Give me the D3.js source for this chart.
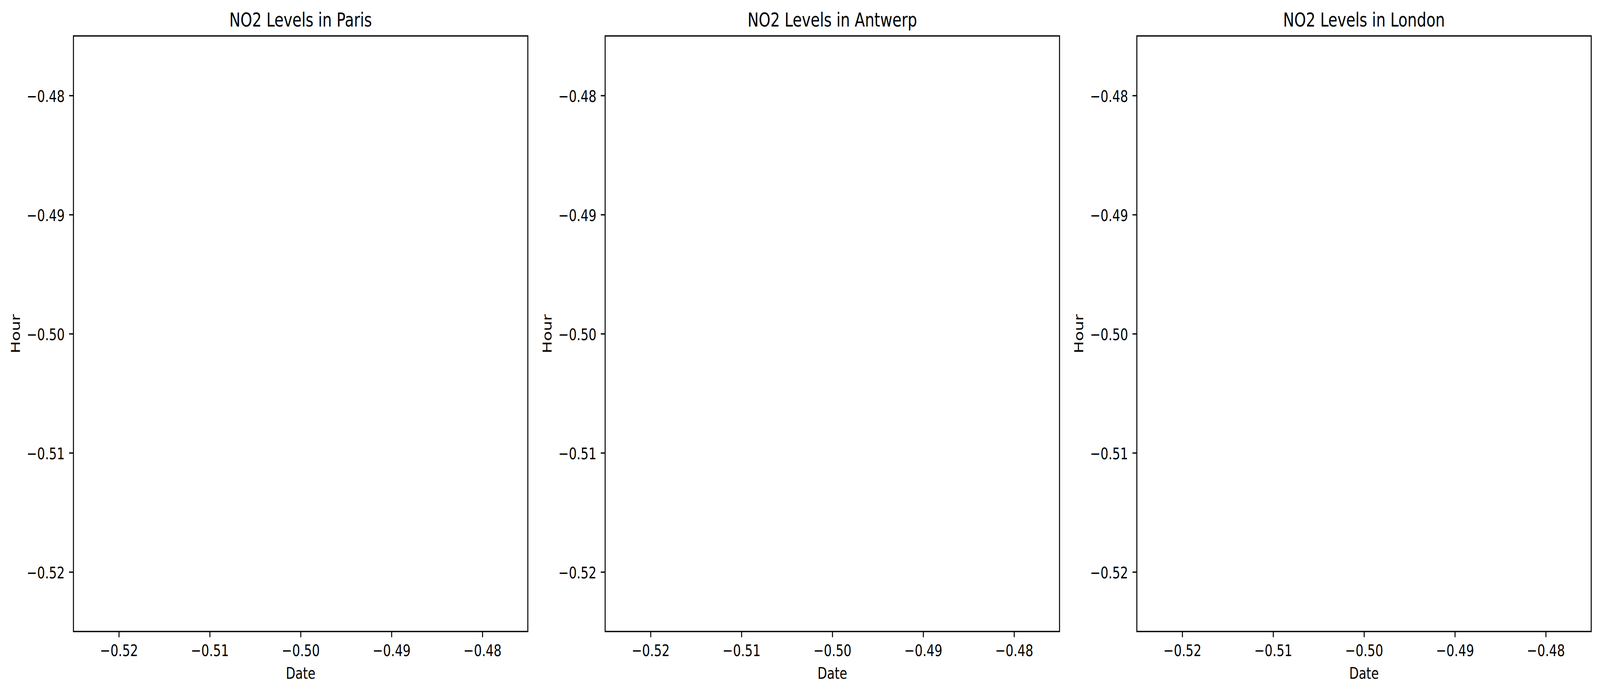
<!DOCTYPE html>
<html>
<head>
<meta charset="utf-8">
<script src="https://cdn.jsdelivr.net/npm/d3@7"></script>
<style>
  html, body { margin: 0; padding: 0; background: #fff; overflow: hidden; }
  svg { display: block; width: 100vw; height: 100vh; }
  text { font-family: "DejaVu Sans", sans-serif; fill: #000; }
</style>
</head>
<body>
<script>
// chart data: three cities, no measurements came through (empty series)
var cities = ["Paris", "Antwerp", "London"];
var dates = { Paris: [], Antwerp: [], London: [] };
var hours = { Paris: [], Antwerp: [], London: [] };
var no2 = { Paris: [], Antwerp: [], London: [] };

// axis ticks and default (empty data) limits
var xDomain = [-0.525, -0.475];
var yDomain = [-0.525, -0.475];
var xTicks = [-0.52, -0.51, -0.50, -0.49, -0.48];
var yTicks = [-0.52, -0.51, -0.50, -0.49, -0.48];

var width = 5370,
    height = 1777;

var panelW = 1525,
    panelH = 1525,
    top0 = 92,
    left0 = 246.5,
    gap = 259.5;

var tickLen = 14.6,
    tickPad = 14.6,
    lw = 3.33;

// drawn in figure pixels, stretched to whatever the window is
var svg = d3.select("body")
            .append("svg")
            .attr("viewBox", "0 0 " + width + " " + height)
            .attr("preserveAspectRatio", "none");

svg.append("rect")
   .attr("width", width)
   .attr("height", height)
   .attr("fill", "#fff");

var x = d3.scaleLinear().domain(xDomain).range([0, panelW]);
var y = d3.scaleLinear().domain(yDomain).range([panelH, 0]);

var fmt = d3.format(".2f");

cities.forEach(function(city, i) {
    var g = svg.append("g")
               .attr("transform", "translate(" + (left0 + i * (panelW + gap)) + "," + top0 + ")");

    // points (none in the data)
    g.selectAll("circle")
     .data(dates[city].map(function(d, j) { return {x: d, y: hours[city][j], v: no2[city][j]}; }))
     .enter()
     .append("circle")
        .attr("cx", d => x(d.x))
        .attr("cy", d => y(d.y))
        .attr("r", 6);

    var xAxis = g.append("g")
                 .attr("transform", "translate(0," + panelH + ")")
                 .call(d3.axisBottom(x)
                         .tickValues(xTicks)
                         .tickFormat(fmt)
                         .tickSize(tickLen)
                         .tickPadding(tickPad));

    var yAxis = g.append("g")
                 .call(d3.axisLeft(y)
                         .tickValues(yTicks)
                         .tickFormat(fmt)
                         .tickSize(tickLen)
                         .tickPadding(tickPad));

    [xAxis, yAxis].forEach(function(a) {
        a.select(".domain").remove();
        a.selectAll("line").attr("stroke", "#000").attr("stroke-width", lw);
        a.selectAll("text")
         .attr("font-size", 41.67)
         .attr("font-family", "DejaVu Sans")
         .attr("fill", "#000");
    });
    xAxis.selectAll("text").attr("dy", "0.8em");
    yAxis.selectAll("text").attr("dy", "0.38em");

    // frame
    g.append("rect")
     .attr("width", panelW)
     .attr("height", panelH)
     .attr("fill", "none")
     .attr("stroke", "#000")
     .attr("stroke-width", lw)
     .attr("stroke-linejoin", "miter");

    g.append("text")
     .attr("x", panelW / 2)
     .attr("y", -24)
     .attr("text-anchor", "middle")
     .attr("font-size", 50)
     .text("NO2 Levels in " + city);

    g.append("text")
     .attr("x", panelW / 2)
     .attr("y", panelH + 121)
     .attr("text-anchor", "middle")
     .attr("font-size", 41.67)
     .text("Date");

    g.append("text")
     .attr("transform", "translate(-180," + (panelH / 2) + ") rotate(-90)")
     .attr("text-anchor", "middle")
     .attr("font-size", 41.67)
     .text("Hour");
});
</script>
</body>
</html>
